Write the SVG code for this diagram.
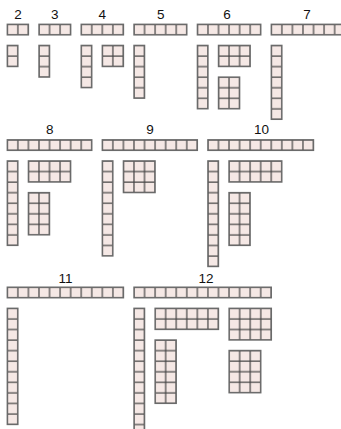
<svg xmlns="http://www.w3.org/2000/svg" width="341" height="429" viewBox="0 0 341 429">
<style>
.lbl{font-family:"Liberation Sans",Arial,sans-serif;font-size:13.5px;fill:#111;text-anchor:middle}
.b{fill:url(#cells);stroke:#6a6a6a;stroke-width:1.4}
</style>
<defs>
<pattern id="cells" width="10.56" height="10.56" patternUnits="userSpaceOnUse">
<rect width="10.56" height="10.56" fill="#f5e8e5"/>
<path d="M0 0H10.56V10.56H0Z" fill="none" stroke="#444" stroke-width="1.2"/>
</pattern>
</defs>
<rect width="341" height="429" fill="#fff"/>

<g id="n2">
<text class="lbl" x="17.9" y="18.8">2</text>
<g transform="translate(7.3,24.3)"><rect class="b" width="21.12" height="10.56"/></g>
<g transform="translate(7.3,45.4)"><rect class="b" width="10.56" height="21.12"/></g>
</g>

<g id="n3">
<text class="lbl" x="54.8" y="18.8">3</text>
<g transform="translate(39,24.3)"><rect class="b" width="31.68" height="10.56"/></g>
<g transform="translate(39,45.4)"><rect class="b" width="10.56" height="31.68"/></g>
</g>

<g id="n4">
<text class="lbl" x="102.3" y="18.8">4</text>
<g transform="translate(81.2,24.3)"><rect class="b" width="42.24" height="10.56"/></g>
<g transform="translate(81.2,45.4)"><rect class="b" width="10.56" height="42.24"/></g>
<g transform="translate(102.3,45.4)"><rect class="b" width="21.12" height="21.12"/></g>
</g>

<g id="n5">
<text class="lbl" x="160.8" y="18.8">5</text>
<g transform="translate(134,24.3)"><rect class="b" width="52.8" height="10.56"/></g>
<g transform="translate(134,45.4)"><rect class="b" width="10.56" height="52.8"/></g>
</g>

<g id="n6">
<text class="lbl" x="227" y="18.8">6</text>
<g transform="translate(197.4,24.3)"><rect class="b" width="63.36" height="10.56"/></g>
<g transform="translate(197.4,45.4)"><rect class="b" width="10.56" height="63.36"/></g>
<g transform="translate(218.5,45.4)"><rect class="b" width="31.68" height="21.12"/></g>
<g transform="translate(218.5,77.1)"><rect class="b" width="21.12" height="31.68"/></g>
</g>

<g id="n7">
<text class="lbl" x="307" y="18.8">7</text>
<g transform="translate(271.3,24.3)"><rect class="b" width="73.92" height="10.56"/></g>
<g transform="translate(271.3,45.4)"><rect class="b" width="10.56" height="73.92"/></g>
</g>

<g id="n8">
<text class="lbl" x="49.8" y="134.3">8</text>
<g transform="translate(7.3,139.8)"><rect class="b" width="84.48" height="10.56"/></g>
<g transform="translate(7.3,160.9)"><rect class="b" width="10.56" height="84.48"/></g>
<g transform="translate(28.4,160.9)"><rect class="b" width="42.24" height="21.12"/></g>
<g transform="translate(28.4,192.6)"><rect class="b" width="21.12" height="42.24"/></g>
</g>

<g id="n9">
<text class="lbl" x="150" y="134.3">9</text>
<g transform="translate(102.3,139.8)"><rect class="b" width="95.04" height="10.56"/></g>
<g transform="translate(102.3,160.9)"><rect class="b" width="10.56" height="95.04"/></g>
<g transform="translate(123.4,160.9)"><rect class="b" width="31.68" height="31.68"/></g>
</g>

<g id="n10">
<text class="lbl" x="261.5" y="134.3">10</text>
<g transform="translate(207.9,139.8)"><rect class="b" width="105.6" height="10.56"/></g>
<g transform="translate(207.9,160.9)"><rect class="b" width="10.56" height="105.6"/></g>
<g transform="translate(229,160.9)"><rect class="b" width="52.8" height="21.12"/></g>
<g transform="translate(229,192.6)"><rect class="b" width="21.12" height="52.8"/></g>
</g>

<g id="n11">
<text class="lbl" x="65.5" y="283">11</text>
<g transform="translate(7.3,287.2)"><rect class="b" width="116.16" height="10.56"/></g>
<g transform="translate(7.3,308.3)"><rect class="b" width="10.56" height="116.16"/></g>
</g>

<g id="n12">
<text class="lbl" x="206" y="283">12</text>
<g transform="translate(134,287.2)"><rect class="b" width="137.28" height="10.56"/></g>
<g transform="translate(134,308.3)"><rect class="b" width="10.56" height="126.72"/></g>
<g transform="translate(155.1,308.3)"><rect class="b" width="63.36" height="21.12"/></g>
<g transform="translate(155.1,340)"><rect class="b" width="21.12" height="63.36"/></g>
<g transform="translate(229.1,308.3)"><rect class="b" width="42.24" height="31.68"/></g>
<g transform="translate(229.1,350.5)"><rect class="b" width="31.68" height="42.24"/></g>
</g>
</svg>
